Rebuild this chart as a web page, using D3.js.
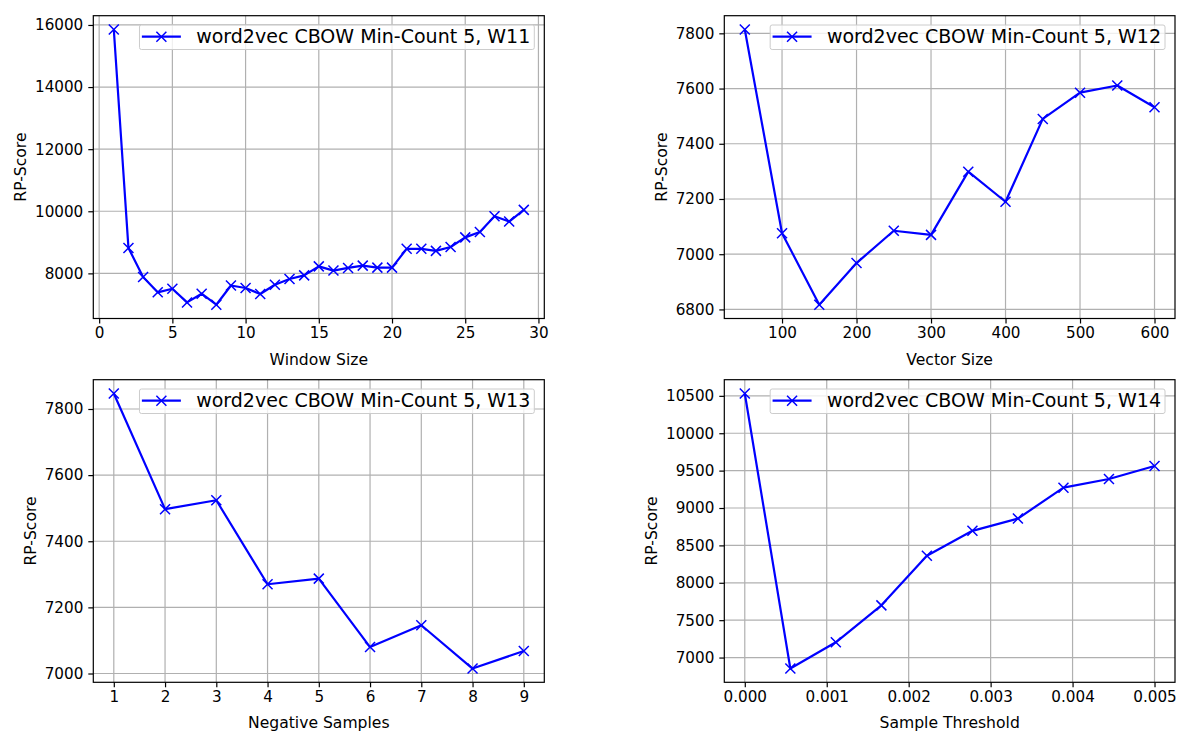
<!DOCTYPE html>
<html>
<head>
<meta charset="utf-8">
<script src="https://cdn.jsdelivr.net/npm/d3@7"></script>
<style>
  body { margin: 0; background: #fff; }
  svg text { font-family: "DejaVu Sans", sans-serif; fill: #000; }
</style>
</head>
<body>
<script>
// values
var windowSizes = [1, 2, 3, 4, 5, 6, 7, 8, 9, 10, 11, 12, 13, 14, 15, 16, 17, 18, 19, 20, 21, 22, 23, 24, 25, 26, 27, 28, 29];
var w11Scores = [15855, 8820, 7885, 7390, 7505, 7065, 7345, 6990, 7610, 7530, 7335, 7635, 7820, 7935, 8225, 8090, 8175, 8250, 8185, 8185, 8790, 8790, 8725, 8850, 9160, 9335, 9840, 9670, 10045];

var vectorSizes = [50, 100, 150, 200, 250, 300, 350, 400, 450, 500, 550, 600];
var w12Scores = [7814, 7076, 6817, 6968, 7085, 7070, 7299, 7190, 7490, 7585, 7611, 7532];

var negativeSamples = [1, 2, 3, 4, 5, 6, 7, 8, 9];
var w13Scores = [7847, 7497, 7524, 7270, 7287, 7080, 7146, 7015, 7068];

var sampleThresholds = [0, 0.000556, 0.001111, 0.001667, 0.002222, 0.002778, 0.003333, 0.003889, 0.004444, 0.005];
var w14Scores = [10532, 6853, 7204, 7698, 8361, 8695, 8859, 9272, 9388, 9562];

// tick labels
var windowTicks = [0, 5, 10, 15, 20, 25, 30];
var vectorTicks = [100, 200, 300, 400, 500, 600];
var negativeTicks = [1, 2, 3, 4, 5, 6, 7, 8, 9];
var thresholdTicks = [0, 0.001, 0.002, 0.003, 0.004, 0.005];
var w11Ticks = [8000, 10000, 12000, 14000, 16000];
var w12Ticks = [6800, 7000, 7200, 7400, 7600, 7800];
var w13Ticks = [7000, 7200, 7400, 7600, 7800];
var w14Ticks = [7000, 7500, 8000, 8500, 9000, 9500, 10000, 10500];

var svg = d3.select("body").append("svg")
    .attr("width", 1178)
    .attr("height", 731);

var panels = [
    { left: 93.3, right: 544.3, top: 15.7, bottom: 318.5, xs: windowSizes, ys: w11Scores,
      xt: windowTicks, yt: w11Ticks, xfmt: d3.format("d"), xlabel: "Window Size", name: "word2vec CBOW Min-Count 5, W11" },
    { left: 724.3, right: 1175, top: 15.7, bottom: 318.5, xs: vectorSizes, ys: w12Scores,
      xt: vectorTicks, yt: w12Ticks, xfmt: d3.format("d"), xlabel: "Vector Size", name: "word2vec CBOW Min-Count 5, W12" },
    { left: 93.3, right: 544.3, top: 379.7, bottom: 682.3, xs: negativeSamples, ys: w13Scores,
      xt: negativeTicks, yt: w13Ticks, xfmt: d3.format("d"), xlabel: "Negative Samples", name: "word2vec CBOW Min-Count 5, W13" },
    { left: 724.3, right: 1175, top: 379.7, bottom: 682.3, xs: sampleThresholds, ys: w14Scores,
      xt: thresholdTicks, yt: w14Ticks, xfmt: d3.format(".3f"), xlabel: "Sample Threshold", name: "word2vec CBOW Min-Count 5, W14" }
];

function padded(values) {
    var ext = d3.extent(values);
    var m = (ext[1] - ext[0]) * 0.05;
    return [ext[0] - m, ext[1] + m];
}

panels.forEach(function(p) {
    var x = d3.scaleLinear().domain(padded(p.xs)).range([p.left, p.right]);
    var y = d3.scaleLinear().domain(padded(p.ys)).range([p.bottom, p.top]);
    var g = svg.append("g");

    // grid
    g.selectAll(".gx").data(p.xt).enter().append("line")
        .attr("x1", function(d) { return x(d); }).attr("x2", function(d) { return x(d); })
        .attr("y1", p.top).attr("y2", p.bottom)
        .attr("stroke", "#b0b0b0").attr("stroke-width", 1.2);
    g.selectAll(".gy").data(p.yt).enter().append("line")
        .attr("x1", p.left).attr("x2", p.right)
        .attr("y1", function(d) { return y(d); }).attr("y2", function(d) { return y(d); })
        .attr("stroke", "#b0b0b0").attr("stroke-width", 1.2);

    // axes
    var xa = g.append("g").attr("transform", "translate(0," + p.bottom + ")")
        .call(d3.axisBottom(x).tickValues(p.xt).tickFormat(p.xfmt).tickSize(5).tickPadding(4).tickSizeOuter(0));
    var ya = g.append("g").attr("transform", "translate(" + p.left + ",0)")
        .call(d3.axisLeft(y).tickValues(p.yt).tickFormat(d3.format("d")).tickSize(5).tickPadding(5).tickSizeOuter(0));
    [xa, ya].forEach(function(a) {
        a.select(".domain").remove();
        a.selectAll("line").attr("stroke", "#000").attr("stroke-width", 1.2);
        a.selectAll("text").attr("font-size", 15.2).attr("font-family", "DejaVu Sans").attr("fill", "#000");
    });

    // frame
    g.append("rect")
        .attr("x", p.left).attr("y", p.top)
        .attr("width", p.right - p.left).attr("height", p.bottom - p.top)
        .attr("fill", "none").attr("stroke", "#000").attr("stroke-width", 1.2);

    // labels
    g.append("text")
        .attr("x", (p.left + p.right) / 2).attr("y", p.bottom + 46)
        .attr("text-anchor", "middle").attr("font-size", 15.6)
        .text(p.xlabel);
    var tickW = 0;
    ya.selectAll("text").each(function() { tickW = Math.max(tickW, this.getComputedTextLength()); });
    var lx = p.left - 10 - tickW - 9;
    g.append("text")
        .attr("transform", "translate(" + lx + "," + ((p.top + p.bottom) / 2) + ") rotate(-90)")
        .attr("text-anchor", "middle").attr("font-size", 15.6)
        .text("RP-Score");

    // line and markers
    var pts = p.xs.map(function(d, i) { return [d, p.ys[i]]; });
    g.append("path")
        .datum(pts)
        .attr("fill", "none").attr("stroke", "#0000ff").attr("stroke-width", 2.2)
        .attr("stroke-linejoin", "round")
        .attr("d", d3.line().x(function(d) { return x(d[0]); }).y(function(d) { return y(d[1]); }));
    var s = 5;
    g.selectAll(".mk").data(pts).enter().append("path")
        .attr("fill", "none").attr("stroke", "#0000ff").attr("stroke-width", 1.5)
        .attr("d", function(d) {
            var cx = x(d[0]), cy = y(d[1]);
            return "M" + (cx - s) + "," + (cy - s) + "L" + (cx + s) + "," + (cy + s) +
                   "M" + (cx - s) + "," + (cy + s) + "L" + (cx + s) + "," + (cy - s);
        });

    // legend
    var lg = g.append("g");
    var boxRight = p.right - 10, boxTop = p.top + 9.3;
    var box = lg.append("rect");
    var txt = lg.append("text").attr("font-size", 19).text(p.name);
    var tw = txt.node().getComputedTextLength();
    var textStart = boxRight - 4 - tw;
    txt.attr("x", textStart).attr("y", boxTop + 18);
    var hEnd = textStart - 15.3, hStart = hEnd - 39, hy = boxTop + 11.7;
    box.attr("x", hStart - 2.4).attr("y", boxTop)
        .attr("width", boxRight - hStart + 2.4).attr("height", 24.5)
        .attr("rx", 2).attr("fill", "#fff").attr("fill-opacity", 0.8)
        .attr("stroke", "#cccccc").attr("stroke-width", 1);
    lg.append("line").attr("x1", hStart).attr("x2", hEnd).attr("y1", hy).attr("y2", hy)
        .attr("stroke", "#0000ff").attr("stroke-width", 2.2);
    var mx = (hStart + hEnd) / 2;
    lg.append("path").attr("fill", "none").attr("stroke", "#0000ff").attr("stroke-width", 1.5)
        .attr("d", "M" + (mx - s) + "," + (hy - s) + "L" + (mx + s) + "," + (hy + s) +
                   "M" + (mx - s) + "," + (hy + s) + "L" + (mx + s) + "," + (hy - s));
});
</script>
</body>
</html>
